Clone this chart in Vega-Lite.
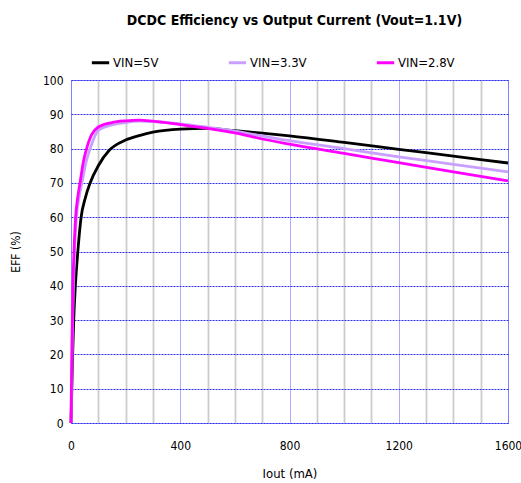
{
  "$schema": "https://vega.github.io/schema/vega-lite/v6.json",
  "autosize": "none",
  "width": 437,
  "height": 343,
  "padding": {"left": 71, "top": 80, "right": 13, "bottom": 60},
  "config": {
    "font": "DejaVu Sans Condensed",
    "view": {"stroke": "#5050ff", "strokeDash": [1, 1], "strokeWidth": 1}
  },
  "title": {
    "text": "DCDC Efficiency vs Output Current (Vout=1.1V)",
    "fontSize": 14,
    "fontWeight": "bold",
    "color": "#000000",
    "anchor": "middle",
    "dx": 5,
    "offset": 24
  },
  "data": {
    "values": [
      {"iout": 0, "eff": 0, "vin": "VIN=5V"},
      {"iout": 3, "eff": 10, "vin": "VIN=5V"},
      {"iout": 6, "eff": 20, "vin": "VIN=5V"},
      {"iout": 10, "eff": 30, "vin": "VIN=5V"},
      {"iout": 16, "eff": 40, "vin": "VIN=5V"},
      {"iout": 25, "eff": 50, "vin": "VIN=5V"},
      {"iout": 37, "eff": 60, "vin": "VIN=5V"},
      {"iout": 52, "eff": 65.5, "vin": "VIN=5V"},
      {"iout": 70, "eff": 70, "vin": "VIN=5V"},
      {"iout": 100, "eff": 75, "vin": "VIN=5V"},
      {"iout": 140, "eff": 79.5, "vin": "VIN=5V"},
      {"iout": 200, "eff": 82.5, "vin": "VIN=5V"},
      {"iout": 250, "eff": 83.8, "vin": "VIN=5V"},
      {"iout": 300, "eff": 84.8, "vin": "VIN=5V"},
      {"iout": 400, "eff": 85.7, "vin": "VIN=5V"},
      {"iout": 500, "eff": 85.9, "vin": "VIN=5V"},
      {"iout": 600, "eff": 85.2, "vin": "VIN=5V"},
      {"iout": 700, "eff": 84.5, "vin": "VIN=5V"},
      {"iout": 800, "eff": 83.7, "vin": "VIN=5V"},
      {"iout": 1000, "eff": 81.8, "vin": "VIN=5V"},
      {"iout": 1200, "eff": 79.8, "vin": "VIN=5V"},
      {"iout": 1400, "eff": 77.8, "vin": "VIN=5V"},
      {"iout": 1600, "eff": 75.8, "vin": "VIN=5V"},

      {"iout": 0, "eff": 0, "vin": "VIN=3.3V"},
      {"iout": 2, "eff": 10, "vin": "VIN=3.3V"},
      {"iout": 4, "eff": 20, "vin": "VIN=3.3V"},
      {"iout": 6, "eff": 30, "vin": "VIN=3.3V"},
      {"iout": 9, "eff": 40, "vin": "VIN=3.3V"},
      {"iout": 13, "eff": 50, "vin": "VIN=3.3V"},
      {"iout": 20, "eff": 60, "vin": "VIN=3.3V"},
      {"iout": 30, "eff": 66, "vin": "VIN=3.3V"},
      {"iout": 40, "eff": 70, "vin": "VIN=3.3V"},
      {"iout": 55, "eff": 76, "vin": "VIN=3.3V"},
      {"iout": 70, "eff": 80, "vin": "VIN=3.3V"},
      {"iout": 100, "eff": 85.3, "vin": "VIN=3.3V"},
      {"iout": 150, "eff": 86.9, "vin": "VIN=3.3V"},
      {"iout": 200, "eff": 87.6, "vin": "VIN=3.3V"},
      {"iout": 250, "eff": 88.0, "vin": "VIN=3.3V"},
      {"iout": 300, "eff": 87.9, "vin": "VIN=3.3V"},
      {"iout": 400, "eff": 87.2, "vin": "VIN=3.3V"},
      {"iout": 500, "eff": 86.2, "vin": "VIN=3.3V"},
      {"iout": 600, "eff": 85.1, "vin": "VIN=3.3V"},
      {"iout": 700, "eff": 83.7, "vin": "VIN=3.3V"},
      {"iout": 800, "eff": 82.3, "vin": "VIN=3.3V"},
      {"iout": 1000, "eff": 80.0, "vin": "VIN=3.3V"},
      {"iout": 1200, "eff": 77.6, "vin": "VIN=3.3V"},
      {"iout": 1400, "eff": 75.4, "vin": "VIN=3.3V"},
      {"iout": 1600, "eff": 73.2, "vin": "VIN=3.3V"},

      {"iout": 0, "eff": 0, "vin": "VIN=2.8V"},
      {"iout": 1.5, "eff": 10, "vin": "VIN=2.8V"},
      {"iout": 3, "eff": 20, "vin": "VIN=2.8V"},
      {"iout": 5, "eff": 30, "vin": "VIN=2.8V"},
      {"iout": 7, "eff": 40, "vin": "VIN=2.8V"},
      {"iout": 11, "eff": 50, "vin": "VIN=2.8V"},
      {"iout": 17, "eff": 60, "vin": "VIN=2.8V"},
      {"iout": 25, "eff": 66, "vin": "VIN=2.8V"},
      {"iout": 33, "eff": 70, "vin": "VIN=2.8V"},
      {"iout": 45, "eff": 76, "vin": "VIN=2.8V"},
      {"iout": 57, "eff": 80, "vin": "VIN=2.8V"},
      {"iout": 75, "eff": 84, "vin": "VIN=2.8V"},
      {"iout": 100, "eff": 86.3, "vin": "VIN=2.8V"},
      {"iout": 150, "eff": 87.6, "vin": "VIN=2.8V"},
      {"iout": 200, "eff": 88.1, "vin": "VIN=2.8V"},
      {"iout": 250, "eff": 88.3, "vin": "VIN=2.8V"},
      {"iout": 300, "eff": 88.0, "vin": "VIN=2.8V"},
      {"iout": 400, "eff": 87.0, "vin": "VIN=2.8V"},
      {"iout": 500, "eff": 85.9, "vin": "VIN=2.8V"},
      {"iout": 600, "eff": 84.6, "vin": "VIN=2.8V"},
      {"iout": 700, "eff": 82.8, "vin": "VIN=2.8V"},
      {"iout": 800, "eff": 81.3, "vin": "VIN=2.8V"},
      {"iout": 1000, "eff": 78.6, "vin": "VIN=2.8V"},
      {"iout": 1200, "eff": 75.9, "vin": "VIN=2.8V"},
      {"iout": 1400, "eff": 73.2, "vin": "VIN=2.8V"},
      {"iout": 1600, "eff": 70.6, "vin": "VIN=2.8V"}
    ]
  },
  "mark": {"type": "line", "strokeWidth": 2.8, "interpolate": "monotone"},
  "encoding": {
    "x": {
      "field": "iout",
      "type": "quantitative",
      "scale": {"domain": [0, 1600], "nice": false},
      "axis": {
        "title": "Iout (mA)",
        "titleFontSize": 13,
        "titleFontWeight": "normal",
        "titleColor": "#000000",
        "titlePadding": 16,
        "values": [0, 100, 200, 300, 400, 500, 600, 700, 800, 900, 1000, 1100, 1200, 1300, 1400, 1500, 1600],
        "format": "d",
        "labelExpr": "datum.value % 400 === 0 ? datum.label : ''",
        "labelFontSize": 12,
        "labelColor": "#000000",
        "labelPadding": 17,
        "labelFlush": false,
        "ticks": false,
        "domain": false,
        "grid": true,
        "gridColor": {"condition": {"test": "datum.value % 400 === 0", "value": "#5a5aff"}, "value": "#cccccc"},
        "gridWidth": {"condition": {"test": "datum.value % 400 === 0", "value": 1}, "value": 1.8},
        "gridDash": {"condition": {"test": "datum.value % 400 === 0", "value": [1, 1]}, "value": []},
        "gridOpacity": 1
      }
    },
    "y": {
      "field": "eff",
      "type": "quantitative",
      "scale": {"domain": [0, 100], "nice": false},
      "axis": {
        "title": "EFF (%)",
        "titleFontSize": 12,
        "titleFontWeight": "normal",
        "titleColor": "#000000",
        "titlePadding": 20,
        "values": [0, 10, 20, 30, 40, 50, 60, 70, 80, 90, 100],
        "labelFontSize": 12,
        "labelColor": "#000000",
        "labelPadding": 8,
        "labelFlush": false,
        "ticks": false,
        "domain": false,
        "grid": true,
        "gridColor": "#2f2ff0",
        "gridWidth": 1,
        "gridDash": [2, 1],
        "gridOpacity": 1
      }
    },
    "color": {
      "field": "vin",
      "type": "nominal",
      "sort": ["VIN=5V", "VIN=3.3V", "VIN=2.8V"],
      "scale": {"domain": ["VIN=5V", "VIN=3.3V", "VIN=2.8V"], "range": ["#000000", "#c9a0ff", "#ff00ff"]},
      "legend": {
        "title": null,
        "orient": "none",
        "direction": "horizontal",
        "columns": 3,
        "legendX": 19,
        "legendY": -28,
        "symbolType": "stroke",
        "symbolStrokeWidth": 3,
        "symbolSize": 300,
        "labelFontSize": 13,
        "labelColor": "#000000",
        "labelOffset": 2,
        "columnPadding": 63
      }
    }
  }
}
